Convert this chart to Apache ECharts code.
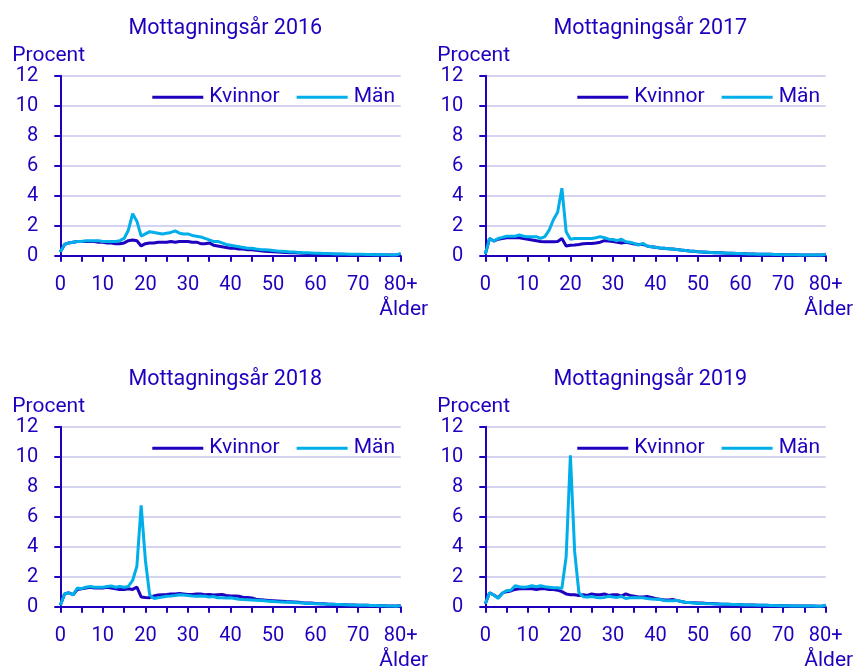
<!DOCTYPE html>
<html><head><meta charset="utf-8">
<script src="https://cdn.jsdelivr.net/npm/echarts@6/dist/echarts.min.js"></script>
<style>html,body{margin:0;padding:0;background:#fff}#c{width:855px;height:669px}</style>
</head><body><div id="c"></div>
<script>
const ages = [];
for (let a = 0; a <= 79; a++) ages.push(String(a));
ages.push('80+');

const years = ['2016', '2017', '2018', '2019'];
const seriesNames = ['Kvinnor', 'Män'];

const kvinnor2016 = [0.25,0.75,0.85,0.9,0.95,0.95,0.95,0.95,0.95,0.9,0.9,0.85,0.85,0.8,0.8,0.85,1.0,1.05,1.0,0.65,0.8,0.85,0.85,0.9,0.9,0.9,0.95,0.9,0.95,0.95,0.95,0.9,0.9,0.8,0.8,0.85,0.7,0.65,0.6,0.55,0.5,0.5,0.45,0.45,0.4,0.4,0.36,0.33,0.3,0.28,0.26,0.25,0.23,0.22,0.2,0.19,0.18,0.16,0.15,0.14,0.12,0.12,0.11,0.1,0.1,0.09,0.09,0.08,0.08,0.07,0.07,0.07,0.06,0.06,0.06,0.05,0.05,0.05,0.04,0.04,0.1];
const man2016 = [0.25,0.75,0.85,0.9,0.95,0.95,1.0,1.0,1.0,1.0,0.95,0.95,0.95,0.95,1.0,1.15,1.7,2.8,2.3,1.3,1.45,1.6,1.55,1.5,1.45,1.5,1.55,1.65,1.5,1.45,1.45,1.35,1.3,1.25,1.15,1.05,0.95,0.95,0.85,0.75,0.7,0.65,0.6,0.55,0.5,0.5,0.45,0.42,0.4,0.38,0.35,0.32,0.3,0.28,0.25,0.24,0.22,0.2,0.19,0.18,0.17,0.16,0.15,0.14,0.13,0.12,0.12,0.11,0.1,0.1,0.09,0.09,0.08,0.08,0.07,0.07,0.06,0.06,0.05,0.05,0.15];

const kvinnor2017 = [0.1,1.15,0.98,1.1,1.15,1.2,1.22,1.2,1.2,1.15,1.1,1.05,1.0,0.95,0.93,0.93,0.93,0.95,1.15,0.65,0.7,0.72,0.75,0.8,0.82,0.82,0.85,0.9,1.0,0.98,0.95,0.9,0.85,0.9,0.85,0.78,0.75,0.75,0.65,0.6,0.56,0.52,0.49,0.46,0.44,0.42,0.38,0.35,0.32,0.3,0.27,0.25,0.23,0.21,0.2,0.19,0.18,0.17,0.16,0.15,0.14,0.13,0.12,0.11,0.1,0.1,0.09,0.09,0.08,0.08,0.07,0.07,0.06,0.06,0.05,0.05,0.05,0.04,0.04,0.04,0.1];
const man2017 = [0.1,1.15,0.98,1.15,1.22,1.3,1.3,1.3,1.38,1.3,1.27,1.27,1.27,1.15,1.27,1.7,2.4,2.9,4.5,1.6,1.1,1.15,1.15,1.15,1.15,1.15,1.2,1.27,1.2,1.1,1.08,1.0,1.1,0.93,0.9,0.82,0.71,0.82,0.65,0.6,0.56,0.52,0.49,0.46,0.44,0.42,0.38,0.35,0.32,0.3,0.27,0.25,0.23,0.21,0.2,0.2,0.18,0.17,0.16,0.15,0.15,0.13,0.12,0.11,0.1,0.1,0.09,0.09,0.08,0.08,0.07,0.07,0.06,0.06,0.05,0.05,0.05,0.04,0.04,0.04,0.1];

const kvinnor2018 = [0.1,0.85,0.93,0.8,1.15,1.2,1.25,1.3,1.25,1.25,1.25,1.3,1.25,1.2,1.15,1.15,1.2,1.15,1.3,0.65,0.62,0.6,0.72,0.78,0.8,0.82,0.85,0.85,0.88,0.85,0.82,0.82,0.85,0.85,0.8,0.82,0.78,0.8,0.82,0.75,0.72,0.72,0.7,0.62,0.62,0.58,0.5,0.47,0.44,0.42,0.4,0.38,0.36,0.34,0.33,0.32,0.3,0.27,0.25,0.24,0.22,0.2,0.19,0.17,0.16,0.15,0.14,0.13,0.12,0.11,0.1,0.09,0.09,0.08,0.07,0.06,0.06,0.05,0.05,0.04,0.08];
const man2018 = [0.1,0.85,0.93,0.78,1.25,1.2,1.3,1.35,1.3,1.3,1.3,1.35,1.38,1.3,1.35,1.3,1.35,1.75,2.7,6.75,3.1,0.78,0.55,0.6,0.65,0.7,0.72,0.75,0.8,0.78,0.75,0.72,0.7,0.72,0.7,0.65,0.68,0.6,0.6,0.58,0.6,0.55,0.5,0.48,0.47,0.45,0.43,0.41,0.39,0.37,0.35,0.33,0.32,0.3,0.29,0.28,0.26,0.24,0.22,0.21,0.2,0.19,0.18,0.17,0.16,0.15,0.14,0.13,0.12,0.11,0.1,0.09,0.09,0.08,0.08,0.07,0.06,0.05,0.04,0.03,0.08];

const kvinnor2019 = [0.2,0.93,0.78,0.6,0.9,1.0,1.05,1.15,1.2,1.2,1.2,1.2,1.15,1.2,1.2,1.15,1.15,1.1,1.0,0.85,0.8,0.8,0.75,0.8,0.75,0.85,0.8,0.8,0.85,0.75,0.8,0.8,0.7,0.85,0.75,0.7,0.65,0.65,0.68,0.62,0.55,0.5,0.45,0.45,0.48,0.42,0.35,0.3,0.28,0.27,0.25,0.24,0.22,0.21,0.2,0.18,0.17,0.16,0.15,0.14,0.13,0.12,0.12,0.11,0.1,0.1,0.09,0.08,0.08,0.07,0.06,0.06,0.05,0.05,0.05,0.04,0.04,0.04,0.03,0.03,0.08];
const man2019 = [0.2,0.93,0.78,0.55,0.9,1.07,1.1,1.4,1.33,1.3,1.33,1.4,1.33,1.4,1.33,1.3,1.27,1.27,1.22,3.33,10.1,3.67,0.93,0.67,0.65,0.68,0.62,0.6,0.62,0.7,0.65,0.62,0.68,0.55,0.6,0.62,0.6,0.6,0.55,0.52,0.5,0.48,0.42,0.4,0.4,0.42,0.35,0.3,0.28,0.25,0.22,0.21,0.2,0.19,0.18,0.18,0.17,0.16,0.15,0.14,0.13,0.12,0.12,0.11,0.1,0.1,0.09,0.08,0.08,0.07,0.07,0.06,0.05,0.05,0.05,0.04,0.04,0.04,0.03,0.03,0.1];

const kvinnorData = [kvinnor2016, kvinnor2017, kvinnor2018, kvinnor2019];
const manData = [man2016, man2017, man2018, man2019];

const yTicks = [0, 12, 2];

const DARK = '#1E00BE';
const LIGHT = '#00AEEA';
const GRIDC = '#D4D4F0';
const FONT = 'Roboto';

const lefts = [60.3, 485.3];
const tops = [75.7, 426.7];
const gw = 340.4, gh = 180;

const grids = [], xAxes = [], yAxes = [], series = [], legends = [], graphics = [];
years.forEach((yr, i) => {
  const L = lefts[i % 2], T = tops[Math.floor(i / 2)];
  grids.push({left: L, top: T, width: gw, height: gh});
  xAxes.push({
    type: 'category', gridIndex: i, data: ages, boundaryGap: false,
    axisLine: {lineStyle: {color: DARK, width: 2}},
    axisTick: {interval: 4, length: 6, lineStyle: {color: DARK, width: 2}},
    axisLabel: {interval: 9, color: DARK, fontSize: 20, fontFamily: FONT, margin: 19},
    splitLine: {show: false}
  });
  yAxes.push({
    type: 'value', gridIndex: i, min: yTicks[0], max: yTicks[1], interval: yTicks[2],
    axisLine: {show: true, lineStyle: {color: DARK, width: 2}},
    axisTick: {show: true, length: 6, lineStyle: {color: DARK, width: 2}},
    axisLabel: {color: DARK, fontSize: 20, fontFamily: FONT, margin: 22},
    splitLine: {lineStyle: {color: GRIDC, width: 2}}
  });
  series.push({
    name: seriesNames[0], type: 'line', xAxisIndex: i, yAxisIndex: i,
    data: kvinnorData[i], symbol: 'none', lineStyle: {color: DARK, width: 3},
    itemStyle: {color: DARK}, z: 2
  });
  series.push({
    name: seriesNames[1], type: 'line', xAxisIndex: i, yAxisIndex: i,
    data: manData[i], symbol: 'none', lineStyle: {color: LIGHT, width: 3},
    itemStyle: {color: LIGHT}, z: 3
  });
  legends.push({
    data: seriesNames, left: L + 87, top: T + 6,
    icon: 'rect', itemWidth: 51, itemHeight: 3, itemGap: 17,
    textStyle: {color: DARK, fontSize: 21, fontFamily: FONT, padding: [0, 0, 0, 1]},
    selectedMode: false
  });
  graphics.push({type: 'text', x: L + 165, y: T - 47,
    style: {text: 'Mottagningsår ' + yr, fill: DARK, font: '21.5px ' + FONT, textAlign: 'center', textVerticalAlign: 'middle'}});
  graphics.push({type: 'text', x: L - 48, y: T - 20,
    style: {text: 'Procent', fill: DARK, font: '21px ' + FONT, textAlign: 'left', textVerticalAlign: 'middle'}});
  graphics.push({type: 'text', x: L + gw + 3, y: T + gh + 54,
    style: {text: 'Ålder', fill: DARK, font: '21px ' + FONT, textAlign: 'center', textVerticalAlign: 'middle'}});
});

const chart = echarts.init(document.getElementById('c'), null, {renderer: 'canvas'});
chart.setOption({
  animation: false,
  grid: grids, xAxis: xAxes, yAxis: yAxes, series: series, legend: legends,
  graphic: graphics
});
</script></body></html>
